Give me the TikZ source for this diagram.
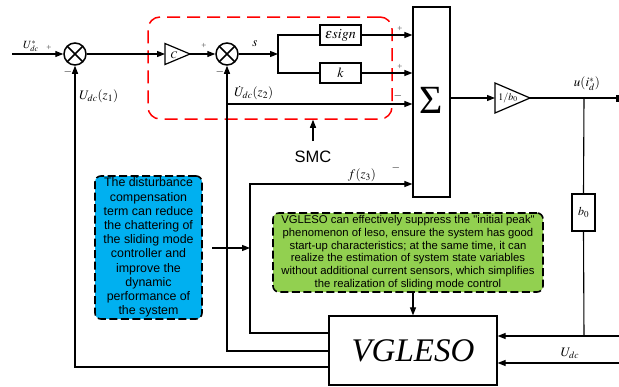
\documentclass[tikz,border=0pt]{standalone}
\usepackage{mathptmx}
\usepackage{fontspec}
\setmainfont{Liberation Serif}
\newfontfamily\sansf{Liberation Sans}
\usetikzlibrary{arrows.meta}
\definecolor{smcred}{RGB}{255,0,0}
\definecolor{noteblue}{RGB}{0,176,240}
\definecolor{notegreen}{RGB}{146,208,80}
\begin{document}
\begin{tikzpicture}[x=1pt,y=-1pt,
  >={Triangle[length=8pt,width=6pt]},
  wire/.style={line width=1.1pt},
  flow/.style={wire,->},
  sumc/.style={circle,draw,line width=1.5pt,minimum size=22pt,inner sep=0pt,
    path picture={\draw[line width=1.5pt]
      (path picture bounding box.north west)--(path picture bounding box.south east)
      (path picture bounding box.north east)--(path picture bounding box.south west);}},
  blockbox/.style={draw,line width=1.2pt,inner sep=0pt},
  gainshape/.style={draw,line width=1.2pt,line join=miter},
  note/.style={draw,line width=1.6pt,dash pattern=on 8pt off 3.5pt,rounded corners=6pt,
    align=center,inner sep=0pt,text=black},
  lbl/.style={inner sep=0pt,font=\fontsize{13}{13}\selectfont},
  small/.style={inner sep=0pt,font=\fontsize{10}{10}\selectfont},
  plus/.style={inner sep=0pt,text=black!70,font=\fontsize{9}{9}\selectfont},
  minus/.style={inner sep=0pt,font=\fontsize{11}{11}\selectfont}
]
\useasboundingbox (0,0) rectangle (619,386);

% SMC region
\node[draw=smcred,line width=1.5pt,dash pattern=on 13pt off 7pt,rounded corners=12pt,
  minimum width=244pt,minimum height=102pt,inner sep=0pt] (smcbox) at (270,68) {};

% gain C
\coordinate (cgin) at (165,54);
\coordinate (cgout) at (190,54);
\draw[gainshape] (165,43.5) -- (cgout) -- (165,64.5) -- cycle;
\node[small] (cglbl) at (174,55) {$C$};

% gain 1/b0
\coordinate (biin) at (495,98);
\coordinate (biout) at (530,98);
\draw[gainshape] (495,83) -- (biout) -- (495,113) -- cycle;
\node[small] (bilbl) at (508,98) {$1/b_0$};

% blocks
\node[sumc] (s1) at (75,54) {};
\node[sumc] (s2) at (227,54) {};
\node[blockbox,minimum width=41pt,minimum height=20pt,font=\fontsize{14}{14}\selectfont] (es) at (340.5,35) {$\varepsilon sign$};
\node[blockbox,minimum width=41pt,minimum height=20pt,font=\fontsize{14}{14}\selectfont] (kb) at (340.5,73) {$k$};
\node[blockbox,minimum width=37pt,minimum height=190pt] (sig) at (431.5,102) {};
\node[inner sep=0pt,font=\fontsize{40}{40}\selectfont] (sigsym) at (431.5,100) {Σ};
\node[blockbox,minimum width=23pt,minimum height=37pt,font=\fontsize{12}{12}\selectfont] (b0) at (583.5,212.5) {$b_0$};
\node[blockbox,minimum width=168pt,minimum height=69pt,font=\fontsize{33}{33}\selectfont\itshape] (vg) at (413,350.5) {VGLESO};

% notes
\node[note,fill=noteblue,minimum width=107pt,minimum height=143pt,
  font=\sansf\fontsize{12.4}{14.2}\selectfont] (nb) at (148.5,247.5)
  {The disturbance\\compensation\\term can reduce\\the chattering of\\the sliding mode\\controller and\\improve the\\dynamic\\performance of\\the system};
\node[note,fill=notegreen,minimum width=270pt,minimum height=79pt,
  font=\sansf\fontsize{11.3}{12.7}\selectfont] (ng) at (408,252.5)
  {VGLESO can effectively suppress the "initial peak"\\phenomenon of leso, ensure the system has good\\start-up characteristics; at the same time, it can\\realize the estimation of system state variables\\without additional current sensors, which simplifies\\the realization of sliding mode control};

% forward path
\coordinate (in) at (12,54);
\draw[flow] (in) -- (s1);
\draw[flow] (s1) -- (cgin);
\draw[flow] (cgout) -- (s2);
\coordinate (split) at (278,54);
\draw[flow] (s2) -- (split);
\draw[wire] (es.west) -| (split) |- (kb.west);
\draw[flow] (es.east) -- (es.east -| sig.west);
\draw[flow] (kb.east) -- (kb.east -| sig.west);
\draw[flow] (sig.east |- biin) -- (biin);
\coordinate (out) at (619,98);
\draw[wire,-{Rectangle[length=3pt,width=7pt]}] (biout) -- (out);

% observer feedback
\coordinate (v1) at (75,367);
\draw[flow] (vg.west |- v1) -- (v1) -- (s1.south);
\coordinate (v2) at (227,351);
\draw[flow] (vg.west |- v2) -- (v2) -- (s2.south);
\coordinate (tap2) at (227,104);
\draw[flow] (tap2) -- (tap2 -| sig.west);
\coordinate (v3a) at (250,333);
\coordinate (v3b) at (250,184);
\draw[flow] (vg.west |- v3a) -- (v3a) -- (v3b) -- (v3b -| sig.west);

% observer inputs
\coordinate (jb) at (584,98);
\coordinate (jv) at (584,336);
\draw[wire] (jb) -- (b0.north);
\draw[wire] (b0.south) -- (jv);
\coordinate (r1) at (619,336);
\draw[flow] (r1) -- (r1 -| vg.east);
\coordinate (r2) at (619,363);
\draw[flow] (r2) -- (r2 -| vg.east);

% annotations
\coordinate (smctail) at (313,141);
\node[inner sep=0pt,font=\sansf\fontsize{16.5}{16.5}\selectfont] (smc) at (313,157) {SMC};
\draw[flow] (smctail) -- (smctail |- smcbox.south);
\coordinate (ba) at (212,248);
\draw[flow] (ba) -- (ba -| v3a);
\draw[flow] (ng.south -| vg.north) -- (vg.north);

% labels
\node[small,font=\fontsize{11}{11}\selectfont] (lin) at (31,46) {$U^{*}_{dc}$};
\node[plus] (p1) at (49,48) {+};
\node[minus] (m1) at (68,72) {$-$};
\node[lbl,anchor=west] (lz1) at (79,96) {$U_{dc}(z_1)$};
\node[plus] (p2) at (204,46) {+};
\node[minus] (m2) at (220,72) {$-$};
\node[lbl] (ls) at (255,44) {$s$};
\node[lbl,anchor=west] (lz2) at (234,93) {$\dot{U}_{dc}(z_2)$};
\node[plus] (p3) at (400,29) {+};
\node[plus] (p4) at (400,67) {+};
\node[minus] (m3) at (398,96) {$-$};
\node[lbl] (lu) at (587,84) {$u(i_d^{*})$};
\node[lbl] (lf) at (362,175) {$f(z_3)$};
\node[minus] (m4) at (396,168) {$-$};
\node[lbl] (lud) at (570,353) {$U_{dc}$};
\end{tikzpicture}
\end{document}
